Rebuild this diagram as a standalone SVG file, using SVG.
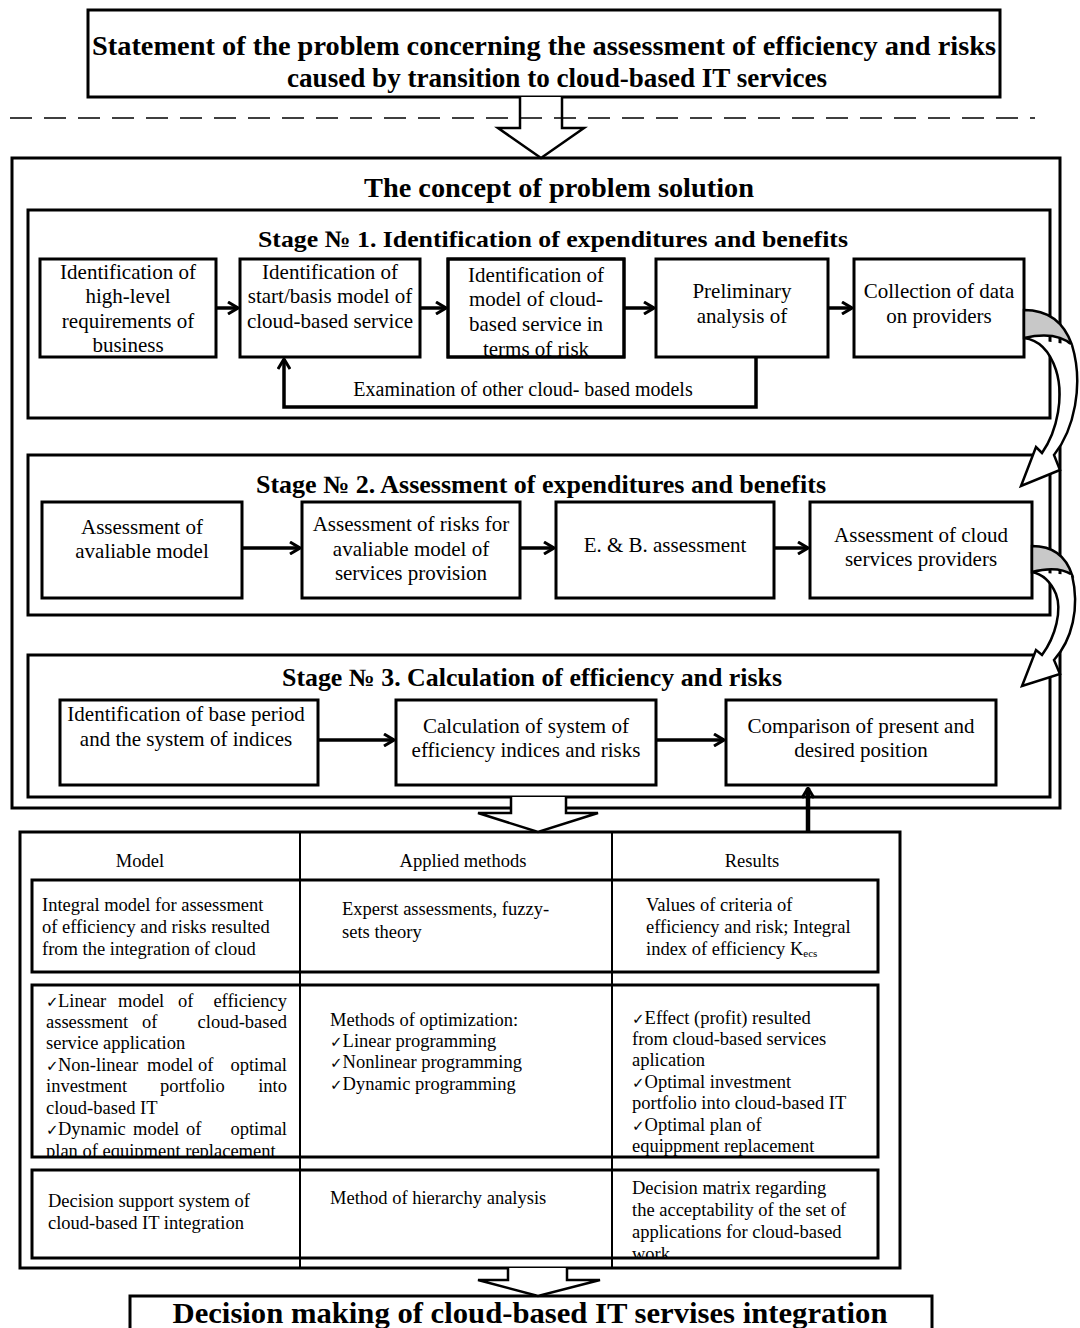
<svg xmlns="http://www.w3.org/2000/svg" width="1080" height="1328" viewBox="0 0 1080 1328">
<style>
.t{font-family:"Liberation Serif","Times New Roman","DejaVu Serif",serif;fill:#000}
.b{font-weight:bold}
.box{fill:#fff;stroke:#000;stroke-width:3}
.frame{fill:none;stroke:#000;stroke-width:3}
.thin{fill:none;stroke:#000;stroke-width:2}
.con{fill:none;stroke:#000;stroke-width:3.5}
.blk{fill:#fff;stroke:#000;stroke-width:2.5;stroke-linejoin:miter}
.n{font-size:21px;text-anchor:middle}
.c{font-size:18.5px}
.e{text-anchor:end}
.ck{font-family:"DejaVu Sans",sans-serif;font-size:15px}
</style>
<defs>
<marker id="ah" viewBox="0 0 12 14" refX="11" refY="7" markerWidth="12" markerHeight="14" markerUnits="userSpaceOnUse" orient="auto">
<path d="M1,1 L11,7 L1,13" fill="none" stroke="#000" stroke-width="3"/>
</marker>
<clipPath id="clA3"><rect x="448" y="259" width="176" height="98"/></clipPath>
<clipPath id="clR2"><rect x="32" y="985" width="846" height="172"/></clipPath>
<clipPath id="clR3"><rect x="32" y="1170" width="846" height="88"/></clipPath>
</defs>

<!-- top statement -->
<g id="statement">
<rect class="box" x="88" y="10" width="912" height="87"/>
<text class="t b" x="544" y="55" font-size="28" text-anchor="middle" textLength="904" lengthAdjust="spacingAndGlyphs">Statement of the problem concerning the assessment of efficiency and risks</text>
<text class="t b" x="557" y="87" font-size="28" text-anchor="middle" textLength="540" lengthAdjust="spacingAndGlyphs">caused by transition to cloud-based IT services</text>
</g>

<!-- concept frame -->
<g id="concept">
<rect class="frame" x="12" y="158" width="1048" height="650"/>
<text class="t b" x="559" y="197" font-size="27" text-anchor="middle" textLength="390" lengthAdjust="spacingAndGlyphs">The concept of problem solution</text>
</g>

<!-- Stage 1 -->
<g id="stage1">
<rect class="frame" x="28" y="210" width="1022" height="208" stroke-width="2.5"/>
<text class="t b" x="553" y="247" font-size="23.5" text-anchor="middle" textLength="590" lengthAdjust="spacingAndGlyphs">Stage № 1. Identification of expenditures and benefits</text>
</g>
<g id="a1">
<rect class="box" x="40" y="259" width="176" height="98"/>
<text class="t n" x="128"><tspan x="128" y="279">Identification of</tspan><tspan x="128" y="303">high-level</tspan><tspan x="128" y="328">requirements of</tspan><tspan x="128" y="352">business</tspan></text>
</g>
<g id="a2">
<rect class="box" x="240" y="259" width="180" height="98"/>
<text class="t n" x="330"><tspan x="330" y="279">Identification of</tspan><tspan x="330" y="303">start/basis model of</tspan><tspan x="330" y="328">cloud-based service</tspan></text>
</g>
<g id="a3">
<rect class="box" x="448" y="259" width="176" height="98"/>
<text class="t n" x="536" clip-path="url(#clA3)"><tspan x="536" y="282">Identification of</tspan><tspan x="536" y="306">model of cloud-</tspan><tspan x="536" y="331">based service in</tspan><tspan x="536" y="356">terms of risk</tspan></text>
<rect x="448" y="259" width="176" height="98" fill="none" stroke="#000" stroke-width="3"/>
</g>
<g id="a4">
<rect class="box" x="656" y="259" width="172" height="98"/>
<text class="t n" x="742"><tspan x="742" y="298">Preliminary</tspan><tspan x="742" y="323">analysis of</tspan></text>
</g>
<g id="a5">
<rect class="box" x="854" y="259" width="170" height="98"/>
<text class="t n" x="939"><tspan x="939" y="298">Collection of data</tspan><tspan x="939" y="323">on providers</tspan></text>
</g>

<!-- Stage 2 -->
<g id="stage2">
<rect class="frame" x="28" y="455" width="1022" height="160" stroke-width="2.5"/>
<text class="t b" x="541" y="493" font-size="25" text-anchor="middle" textLength="570" lengthAdjust="spacingAndGlyphs">Stage № 2. Assessment of expenditures and benefits</text>
</g>
<g id="b1">
<rect class="box" x="42" y="502" width="200" height="96"/>
<text class="t n" x="142"><tspan x="142" y="534">Assessment of</tspan><tspan x="142" y="558">avaliable model</tspan></text>
</g>
<g id="b2">
<rect class="box" x="302" y="502" width="218" height="96"/>
<text class="t n" x="411"><tspan x="411" y="531">Assessment of risks for</tspan><tspan x="411" y="556">avaliable model of</tspan><tspan x="411" y="580">services provision</tspan></text>
</g>
<g id="b3">
<rect class="box" x="556" y="502" width="218" height="96"/>
<text class="t n" x="665" y="552">E. &amp; B. assessment</text>
</g>
<g id="b4">
<rect class="box" x="810" y="502" width="222" height="96"/>
<text class="t n" x="921"><tspan x="921" y="542">Assessment of cloud</tspan><tspan x="921" y="566">services providers</tspan></text>
</g>

<!-- Stage 3 -->
<g id="stage3">
<rect class="frame" x="28" y="655" width="1022" height="142" stroke-width="2.5"/>
<text class="t b" x="532" y="686" font-size="25" text-anchor="middle" textLength="500" lengthAdjust="spacingAndGlyphs">Stage № 3. Calculation of efficiency and risks</text>
</g>
<g id="c1">
<rect class="box" x="60" y="700" width="258" height="85"/>
<text class="t n" x="186"><tspan x="186" y="721">Identification of base period</tspan><tspan x="186" y="746">and the system of indices</tspan></text>
</g>
<g id="c2">
<rect class="box" x="396" y="700" width="260" height="85"/>
<text class="t n" x="526"><tspan x="526" y="733">Calculation of system of</tspan><tspan x="526" y="757">efficiency indices and risks</tspan></text>
</g>
<g id="c3">
<rect class="box" x="726" y="700" width="270" height="85"/>
<text class="t n" x="861"><tspan x="861" y="733">Comparison of present and</tspan><tspan x="861" y="757">desired position</tspan></text>
</g>

<!-- Table -->
<g id="table">
<rect class="frame" x="20" y="832" width="880" height="436"/>
<line class="thin" x1="300" y1="832" x2="300" y2="1268"/>
<line class="thin" x1="612" y1="832" x2="612" y2="1268"/>
<text class="t c" x="140" y="867" text-anchor="middle">Model</text>
<text class="t c" x="463" y="867" text-anchor="middle">Applied methods</text>
<text class="t c" x="752" y="867" text-anchor="middle">Results</text>
</g>
<g id="row1">
<rect class="frame" x="32" y="880" width="846" height="92"/>
<text class="t c"><tspan x="42" y="911">Integral model for assessment</tspan><tspan x="42" y="933">of efficiency and risks resulted</tspan><tspan x="42" y="955">from the integration of cloud</tspan></text>
<text class="t c"><tspan x="342" y="915">Experst assessments, fuzzy-</tspan><tspan x="342" y="938">sets theory</tspan></text>
<text class="t c"><tspan x="646" y="911">Values of criteria of</tspan><tspan x="646" y="933">efficiency and risk; Integral</tspan><tspan x="646" y="955">index of efficiency K<tspan font-size="11" dy="2">ecs</tspan></tspan></text>
</g>
<g id="row2">
<g clip-path="url(#clR2)">
<text class="t c" y="1007"><tspan x="46" class="ck">✓</tspan><tspan x="58">Linear</tspan><tspan x="118">model</tspan><tspan x="178">of</tspan></text>
<text class="t c e" x="287" y="1007">efficiency</text>
<text class="t c" y="1028"><tspan x="46">assessment</tspan><tspan x="142">of</tspan></text>
<text class="t c e" x="287" y="1028">cloud-based</text>
<text class="t c" x="46" y="1049">service application</text>
<text class="t c" y="1071"><tspan x="46" class="ck">✓</tspan><tspan x="58">Non-linear</tspan><tspan x="147">model</tspan><tspan x="198">of</tspan></text>
<text class="t c e" x="287" y="1071">optimal</text>
<text class="t c" y="1092"><tspan x="46">investment</tspan><tspan x="160">portfolio</tspan></text>
<text class="t c e" x="287" y="1092">into</text>
<text class="t c" x="46" y="1114">cloud-based IT</text>
<text class="t c" y="1135"><tspan x="46" class="ck">✓</tspan><tspan x="58">Dynamic</tspan><tspan x="133">model</tspan><tspan x="186">of</tspan></text>
<text class="t c e" x="287" y="1135">optimal</text>
<text class="t c" x="46" y="1157">plan of equipment replacement</text>
<text class="t c"><tspan x="330" y="1026">Methods of optimization:</tspan><tspan x="330" y="1047"><tspan class="ck">✓</tspan>Linear programming</tspan><tspan x="330" y="1068"><tspan class="ck">✓</tspan>Nonlinear programming</tspan><tspan x="330" y="1090"><tspan class="ck">✓</tspan>Dynamic programming</tspan></text>
<text class="t c"><tspan x="632" y="1024"><tspan class="ck">✓</tspan>Effect (profit) resulted</tspan><tspan x="632" y="1045">from cloud-based services</tspan><tspan x="632" y="1066">aplication</tspan><tspan x="632" y="1088"><tspan class="ck">✓</tspan>Optimal investment</tspan><tspan x="632" y="1109">portfolio into cloud-based IT</tspan><tspan x="632" y="1131"><tspan class="ck">✓</tspan>Optimal plan of</tspan><tspan x="632" y="1152">equippment replacement</tspan></text>
</g>
<rect class="frame" x="32" y="985" width="846" height="172"/>
</g>
<g id="row3">
<g clip-path="url(#clR3)">
<text class="t c"><tspan x="48" y="1207">Decision support system of</tspan><tspan x="48" y="1229">cloud-based IT integration</tspan></text>
<text class="t c"><tspan x="330" y="1204">Method of hierarchy analysis</tspan></text>
<text class="t c"><tspan x="632" y="1194">Decision matrix regarding</tspan><tspan x="632" y="1216">the acceptability of the set of</tspan><tspan x="632" y="1238">applications for cloud-based</tspan><tspan x="632" y="1260">work</tspan></text>
</g>
<rect class="frame" x="32" y="1170" width="846" height="88"/>
</g>

<!-- bottom decision -->
<g id="decision">
<rect class="box" x="130" y="1296" width="802" height="40"/>
<text class="t b" x="530" y="1323" font-size="29" text-anchor="middle" textLength="715" lengthAdjust="spacingAndGlyphs">Decision making of cloud-based IT servises integration</text>
</g>

<!-- connectors -->
<g id="connectors">
<path class="blk" d="M520,97 L520,128 L498,128 L541,158 L584,128 L562,128 L562,97"/>
<line x1="10" y1="118" x2="1035" y2="118" stroke="#000" stroke-width="1.5" stroke-dasharray="22,12"/>
<path class="blk" d="M511,797 L511,813 L478,813 L538,832 L598,813 L566,813 L566,797"/>
<path class="blk" d="M508,1268 L508,1280 L478,1280 L538,1296 L600,1280 L567,1280 L567,1268"/>

<line class="con" x1="216" y1="308" x2="238" y2="308" marker-end="url(#ah)"/>
<line class="con" x1="420" y1="308" x2="446" y2="308" marker-end="url(#ah)"/>
<line class="con" x1="624" y1="308" x2="654" y2="308" marker-end="url(#ah)"/>
<line class="con" x1="828" y1="308" x2="852" y2="308" marker-end="url(#ah)"/>
<polyline class="con" points="756,357 756,407 284,407 284,359" marker-end="url(#ah)"/>
<text class="t" font-size="20" x="523" y="396" text-anchor="middle">Examination of other cloud- based models</text>

<line class="con" x1="242" y1="548" x2="300" y2="548" marker-end="url(#ah)"/>
<line class="con" x1="520" y1="548" x2="554" y2="548" marker-end="url(#ah)"/>
<line class="con" x1="774" y1="548" x2="808" y2="548" marker-end="url(#ah)"/>

<line class="con" x1="318" y1="740" x2="394" y2="740" marker-end="url(#ah)"/>
<line class="con" x1="656" y1="740" x2="724" y2="740" marker-end="url(#ah)"/>
<line x1="808" y1="832" x2="808" y2="788" stroke="#000" stroke-width="4.5" marker-end="url(#ah)"/>

<!-- curved arrow 1 -->
<path d="M1024,310 C1048,310 1064,322 1072,345 C1060,334 1042,334 1024,338 Z" fill="#c8c8c8" stroke="#000" stroke-width="2.5"/>
<path d="M1072,345 C1084,385 1074,430 1054,455 L1060,470 L1021,486 L1036,447 L1042,453 C1058,430 1064,395 1056,370 C1050,352 1040,340 1024,338" fill="#fff" stroke="#000" stroke-width="2.5" stroke-linejoin="miter"/>
<!-- curved arrow 2 -->
<path d="M1032,546 C1052,546 1066,556 1072,575 C1062,568 1048,568 1032,572 Z" fill="#c8c8c8" stroke="#000" stroke-width="2.5"/>
<path d="M1072,575 C1080,608 1072,640 1054,660 L1060,674 L1022,686 L1036,650 L1042,655 C1056,636 1062,610 1056,594 C1050,580 1042,574 1032,572" fill="#fff" stroke="#000" stroke-width="2.5" stroke-linejoin="miter"/>
</g>
</svg>
